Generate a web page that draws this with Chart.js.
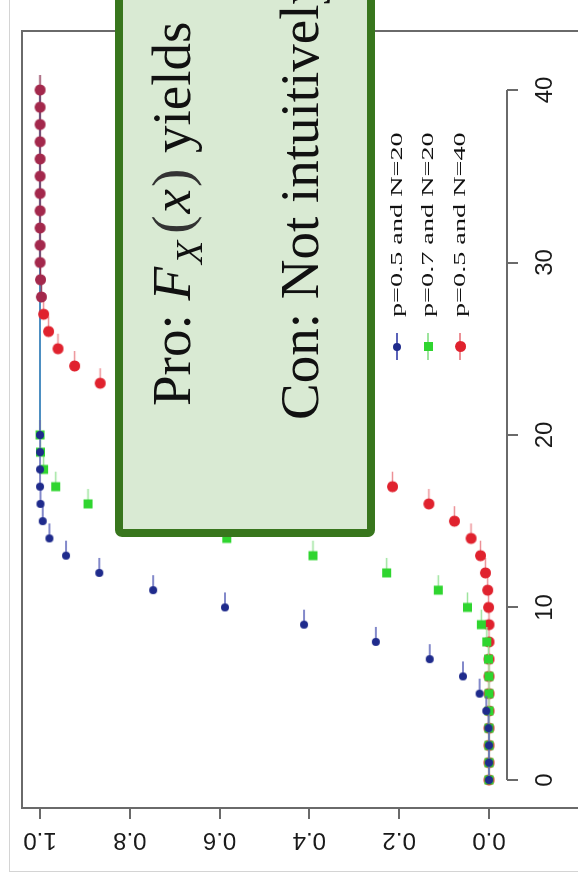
<!DOCTYPE html>
<html><head><meta charset="utf-8">
<script src="https://cdn.jsdelivr.net/npm/chart.js@4.4.0/dist/chart.umd.min.js"></script>
<style>
html,body{margin:0;padding:0;background:#fff;overflow:hidden;width:578px;height:876px;}
#rot{position:absolute;left:0;top:0;width:876px;height:578px;overflow:hidden;transform-origin:0 0;transform:translateY(876px) rotate(-90deg);background:#fff;}
#frame{position:absolute;left:4px;top:9px;width:2000px;height:2000px;border-left:1px solid #d4d4d4;border-top:1px solid #d4d4d4;}
#c{position:absolute;left:0;top:0;}
.legline{position:absolute;height:2px;}
.legdot{position:absolute;}
.legtxt{position:absolute;font-family:'Liberation Serif','DejaVu Serif',serif;font-size:17px;line-height:17px;color:#111;white-space:nowrap;transform-origin:0 50%;transform:scaleX(1.66);}
#box{position:absolute;left:339px;top:115px;width:700px;height:260px;box-sizing:border-box;border:8px solid #38761d;border-radius:7px;background:#d9ead3;}
.bt{position:absolute;font-family:'Liberation Serif','Times New Roman',serif;font-size:55px;line-height:55px;color:#111;white-space:nowrap;}
.bt i{font-style:italic;}
.bt .sub{font-size:38px;position:relative;top:12px;font-style:italic;margin-left:3px;margin-right:5px;}
.bt .par{font-weight:200;color:#333;margin:0 2px;}
</style>
</head>
<body>
<div id="rot">
  <div id="frame"></div>
  <canvas id="c" width="876" height="625"></canvas>
  <div id="legend"></div>
  <div id="box"></div>
  <div class="bt" style="left:470px;top:144px;">Pro: <i>F</i><span class="sub">X</span><span class="par">(</span><i>x</i><span class="par">)</span> yields</div>
  <div class="bt" style="left:456px;top:272px;">Con: Not intuitively</div>
</div>
<script>
// ---- data ----
const xN20 = [0,1,2,3,4,5,6,7,8,9,10,11,12,13,14,15,16,17,18,19,20];
const xN40 = [0,1,2,3,4,5,6,7,8,9,10,11,12,13,14,15,16,17,18,19,20,21,22,23,24,25,26,27,28,29,30,31,32,33,34,35,36,37,38,39,40];
const cdfP05N20 = [0.000,0.000,0.000,0.001,0.006,0.021,0.058,0.132,0.252,0.412,0.588,0.748,0.868,0.942,0.979,0.994,0.999,1.000,1.000,1.000,1.000];
const cdfP07N20 = [0.000,0.000,0.000,0.000,0.000,0.000,0.000,0.001,0.005,0.017,0.048,0.113,0.228,0.392,0.584,0.762,0.893,0.965,0.992,0.999,1.000];
const cdfP05N40 = [0.000,0.000,0.000,0.000,0.000,0.000,0.000,0.000,0.000,0.000,0.001,0.003,0.008,0.019,0.040,0.077,0.134,0.215,0.318,0.437,0.563,0.682,0.785,0.866,0.923,0.960,0.981,0.992,0.997,0.999,1.000,1.000,1.000,1.000,1.000,1.000,1.000,1.000,1.000,1.000,1.000];
const seriesNames = ['p=0.5 and N=20','p=0.7 and N=20','p=0.5 and N=40'];
const upperLineX = [20, 40];
const upperLineY = [1, 1];
const xTicks = [0,10,20,30,40];
const xTickLabels = ['0','10','20','30','40'];
const yTicks = [0,0.2,0.4,0.6,0.8,1.0];
const yTickLabels = ['0.0','0.2','0.4','0.6','0.8','1.0'];
const xAxisAt = -0.04;

// ---- styles ----
const colBlue = '#1f2b8c', tailBlue = '#5a62b8';
const colGreen = '#2fd52f', tailGreen = '#9de49d';
const colRed = '#e0222e', tailRed = '#ec9096';
const colMaroon = '#a3284c';

function pin(color, tailColor, shape, r, tail){
  const w = 2*(tail+1), h = Math.ceil(2*r+4);
  const c = document.createElement('canvas'); c.width = w; c.height = h;
  const g = c.getContext('2d');
  const cx = w/2, cy = h/2;
  g.strokeStyle = tailColor; g.lineWidth = 1.5;
  g.beginPath(); g.moveTo(cx, cy); g.lineTo(cx+tail, cy); g.stroke();
  g.fillStyle = color;
  if (shape === 'square') g.fillRect(cx-r, cy-r, 2*r, 2*r);
  else { g.beginPath(); g.arc(cx, cy, r, 0, Math.PI*2); g.fill(); }
  return c;
}
const bluePin = pin(colBlue, tailBlue, 'circle', 4, 15);
const greenPin = pin(colGreen, tailGreen, 'square', 4.5, 15);
const redPin = pin(colRed, tailRed, 'circle', 5.5, 15);
const maroonPin = pin(colMaroon, '#8a3050', 'circle', 5.5, 15);

const mk = (xs, ys) => xs.map((x,i) => ({x: x, y: ys[i]}));

Chart.defaults.font.family = "'Liberation Sans', Arial, sans-serif";
Chart.defaults.color = '#1a1a1a';

// Chart.js paints the first dataset on top: blue, green, red, then the lines below
new Chart(document.getElementById('c'), {
  type: 'scatter',
  data: {
    datasets: [
      {label: seriesNames[0], data: mk(xN20, cdfP05N20), pointStyle: bluePin, pointRadius:5},
      {label: seriesNames[1], data: mk(xN20, cdfP07N20), pointStyle: greenPin, pointRadius:5},
      {label: seriesNames[2], data: mk(xN40, cdfP05N40), pointRadius:5,
        pointStyle: (ctx) => (ctx.raw && ctx.raw.y >= 0.996) ? maroonPin : redPin},
      {label:'upper', data: mk(upperLineX, upperLineY), showLine:true, borderColor:'#4d8fc2', borderWidth:2, pointRadius:0},
      {label:'axis', data: [{x:xTicks[0], y:xAxisAt},{x:xTicks[xTicks.length-1], y:xAxisAt}], showLine:true, borderColor:'#6a6a6a', borderWidth:2, pointRadius:0}
    ]
  },
  options: {
    responsive:false, animation:false, events:[], devicePixelRatio:1,
    layout:{padding:{left:0, right:31, top:22, bottom:25}},
    plugins:{legend:{display:false}, tooltip:{enabled:false}},
    scales:{
      x:{type:'linear', position:{y:xAxisAt}, min:-1.6232, max:43.4203,
        afterBuildTicks:(s)=>{ s.ticks = xTicks.map(v=>({value:v})); },
        ticks:{callback:(v,i)=>xTickLabels[i], font:{size:24}, padding:13, maxRotation:0, minRotation:0, autoSkip:false, color:'#1a1a1a'},
        grid:{display:true, drawOnChartArea:false, drawTicks:true, tickLength:11, color:'#6a6a6a', lineWidth:2},
        border:{display:false}},
      y:{type:'linear', position:'left', min:-0.24722, max:1.04009,
        afterBuildTicks:(s)=>{ s.ticks = yTicks.map(v=>({value:v})); },
        afterFit:(s)=>{ s.width = 68; },
        ticks:{callback:(v,i)=>yTickLabels[i], font:{size:24}, padding:4, minRotation:90, maxRotation:90, crossAlign:'center', autoSkip:false, color:'#1a1a1a'},
        grid:{display:true, drawOnChartArea:false, drawTicks:true, tickLength:11, color:'#6a6a6a', lineWidth:2},
        border:{display:true, color:'#6a6a6a', width:2}},
      x2:{type:'linear', position:'top', min:0, max:1, display:true,
        afterFit:(s)=>{ s.height = 0; },
        grid:{display:false, drawTicks:false}, ticks:{display:false},
        border:{display:true, color:'#6a6a6a', width:2}},
      y2:{type:'linear', position:'right', min:0, max:1, display:true,
        afterFit:(s)=>{ s.width = 0; },
        grid:{display:false, drawTicks:false}, ticks:{display:false},
        border:{display:true, color:'#6a6a6a', width:2}}
    }
  }
});

// ---- legend (HTML, inside the rotated panel) ----
const legRows = [397, 428, 460];
const legCols = [[colBlue, tailBlue, 'circle', 4], [colGreen, tailGreen, 'square', 4.5], [colRed, tailRed, 'circle', 5.5]];
const lg = document.getElementById('legend');
seriesNames.forEach((name, i) => {
  const v = legRows[i], [c, t, shape, r] = legCols[i];
  const line = document.createElement('div'); line.className = 'legline';
  line.style.cssText = `left:516px;top:${v-1}px;width:27px;background:${t};`;
  const dot = document.createElement('div'); dot.className = 'legdot';
  dot.style.cssText = `left:${529-r}px;top:${v-r}px;width:${2*r}px;height:${2*r}px;background:${c};border-radius:${shape==='circle'?'50%':'0'};`;
  const txt = document.createElement('div'); txt.className = 'legtxt';
  txt.style.cssText = `left:559px;top:${v-9}px;`;
  txt.textContent = name;
  lg.appendChild(line); lg.appendChild(dot); lg.appendChild(txt);
});
</script>
</body></html>
